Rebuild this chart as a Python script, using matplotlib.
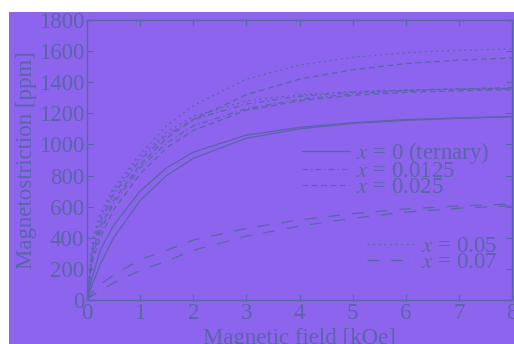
import numpy as np
import matplotlib
matplotlib.use("Agg")
import matplotlib.pyplot as plt
from matplotlib.patches import Rectangle
from matplotlib.lines import Line2D

# campul magnetic [kOe]
H = [0, 0.1, 0.25, 0.5, 1, 1.5, 2, 3, 4, 5, 6, 7, 8]

# x = 0 (ternary), doua ramuri
x0_a = [0, 150, 320, 480, 700, 850, 950, 1060, 1110, 1140, 1160, 1170, 1180]
x0_b = [0, 100, 230, 400, 640, 800, 910, 1040, 1100, 1135, 1155, 1168, 1178]
# x = 0.0125
x0125_a = [0, 330, 500, 680, 900, 1060, 1160, 1260, 1310, 1335, 1350, 1358, 1365]
x0125_b = [0, 280, 440, 620, 850, 1010, 1120, 1230, 1290, 1325, 1345, 1355, 1360]
# x = 0.025
x025_a = [0, 300, 470, 640, 870, 1040, 1160, 1320, 1420, 1480, 1520, 1542, 1556]
x025_b = [0, 250, 400, 580, 810, 980, 1090, 1220, 1280, 1315, 1335, 1345, 1352]
# x = 0.05
x05_a = [0, 380, 560, 720, 940, 1120, 1250, 1420, 1510, 1560, 1590, 1605, 1614]
x05_b = [0, 350, 530, 700, 920, 1080, 1180, 1280, 1320, 1340, 1350, 1355, 1358]
# x = 0.07
x07_a = [0, 50, 100, 160, 260, 320, 385, 460, 515, 555, 585, 605, 617]
x07_b = [0, 30, 60, 110, 190, 250, 320, 410, 475, 525, 565, 590, 605]

labels = ["$x$ = 0 (ternary)", "$x$ = 0.0125", "$x$ = 0.025", "$x$ = 0.05", "$x$ = 0.07"]

bg = "#8c64ee"
ink = "#5a64a8"
fs = 16.5

plt.rcParams["font.family"] = ["Liberation Serif", "DejaVu Serif"]
plt.rcParams["mathtext.fontset"] = "stix"

fig = plt.figure(figsize=(5.14, 3.44), dpi=100, facecolor="white")
fig.patches.append(Rectangle((9 / 514, 0), 1, 1 - 12 / 344, transform=fig.transFigure,
                             facecolor=bg, edgecolor="none", zorder=-10))
ax = fig.add_axes([87 / 514, 1 - 300 / 344, 425 / 514, 280 / 344])
ax.set_facecolor(bg)

lw = 0.9
sty = {
    "solid": "-",
    "dashdot": (0, (4.5, 2.5, 1, 2.5)),
    "dashed": (0, (4.5, 3)),
    "dotted": (0, (1.5, 3)),
    "long": (0, (9.5, 9.5)),
}
ax.plot(H, x0_a, color=ink, lw=lw, ls=sty["solid"])
ax.plot(H, x0_b, color=ink, lw=lw, ls=sty["solid"])
ax.plot(H, x0125_a, color=ink, lw=lw, ls=sty["dashdot"])
ax.plot(H, x0125_b, color=ink, lw=lw, ls=sty["dashdot"])
ax.plot(H, x025_a, color=ink, lw=lw, ls=sty["dashed"])
ax.plot(H, x025_b, color=ink, lw=lw, ls=sty["dashed"])
ax.plot(H, x05_a, color=ink, lw=lw, ls=sty["dotted"])
ax.plot(H, x05_b, color=ink, lw=lw, ls=sty["dotted"])
ax.plot(H, x07_a, color=ink, lw=lw, ls=sty["long"])
ax.plot(H, x07_b, color=ink, lw=lw, ls=sty["long"])

ax.set_xlim(0, 8)
ax.set_ylim(0, 1800)
ax.set_xticks(range(0, 9))
ax.set_yticks(range(0, 1801, 200))
ax.tick_params(direction="in", top=True, right=True, length=4, width=0.8,
               colors=ink, labelsize=fs, pad=2)
for s in ax.spines.values():
    s.set_color(ink)
    s.set_linewidth(1.0)

ax.set_xlabel("Magnetic field [kOe]", fontsize=fs, color=ink, labelpad=3)
ax.set_ylabel("Magnetostriction [ppm]", fontsize=fs, color=ink, labelpad=1)

# legende
h1 = [Line2D([], [], color=ink, lw=lw, ls=sty[k]) for k in ["solid", "dashdot", "dashed"]]
leg1 = ax.legend(h1, labels[:3], loc="upper left", bbox_to_anchor=(0.506, 0.57),
                 frameon=False, fontsize=fs, handlelength=2.1, handletextpad=0.25,
                 labelspacing=-0.23, labelcolor=ink, borderpad=0, borderaxespad=0)
ax.add_artist(leg1)
h2 = [Line2D([], [], color=ink, lw=lw, ls=sty[k]) for k in ["dotted", "long"]]
ax.legend(h2, labels[3:], loc="upper left", bbox_to_anchor=(0.659, 0.227),
          frameon=False, fontsize=fs, handlelength=2.1, handletextpad=0.25,
          labelspacing=-0.23, labelcolor=ink, borderpad=0, borderaxespad=0)

fig.savefig("out.png", dpi=100, facecolor="white")
